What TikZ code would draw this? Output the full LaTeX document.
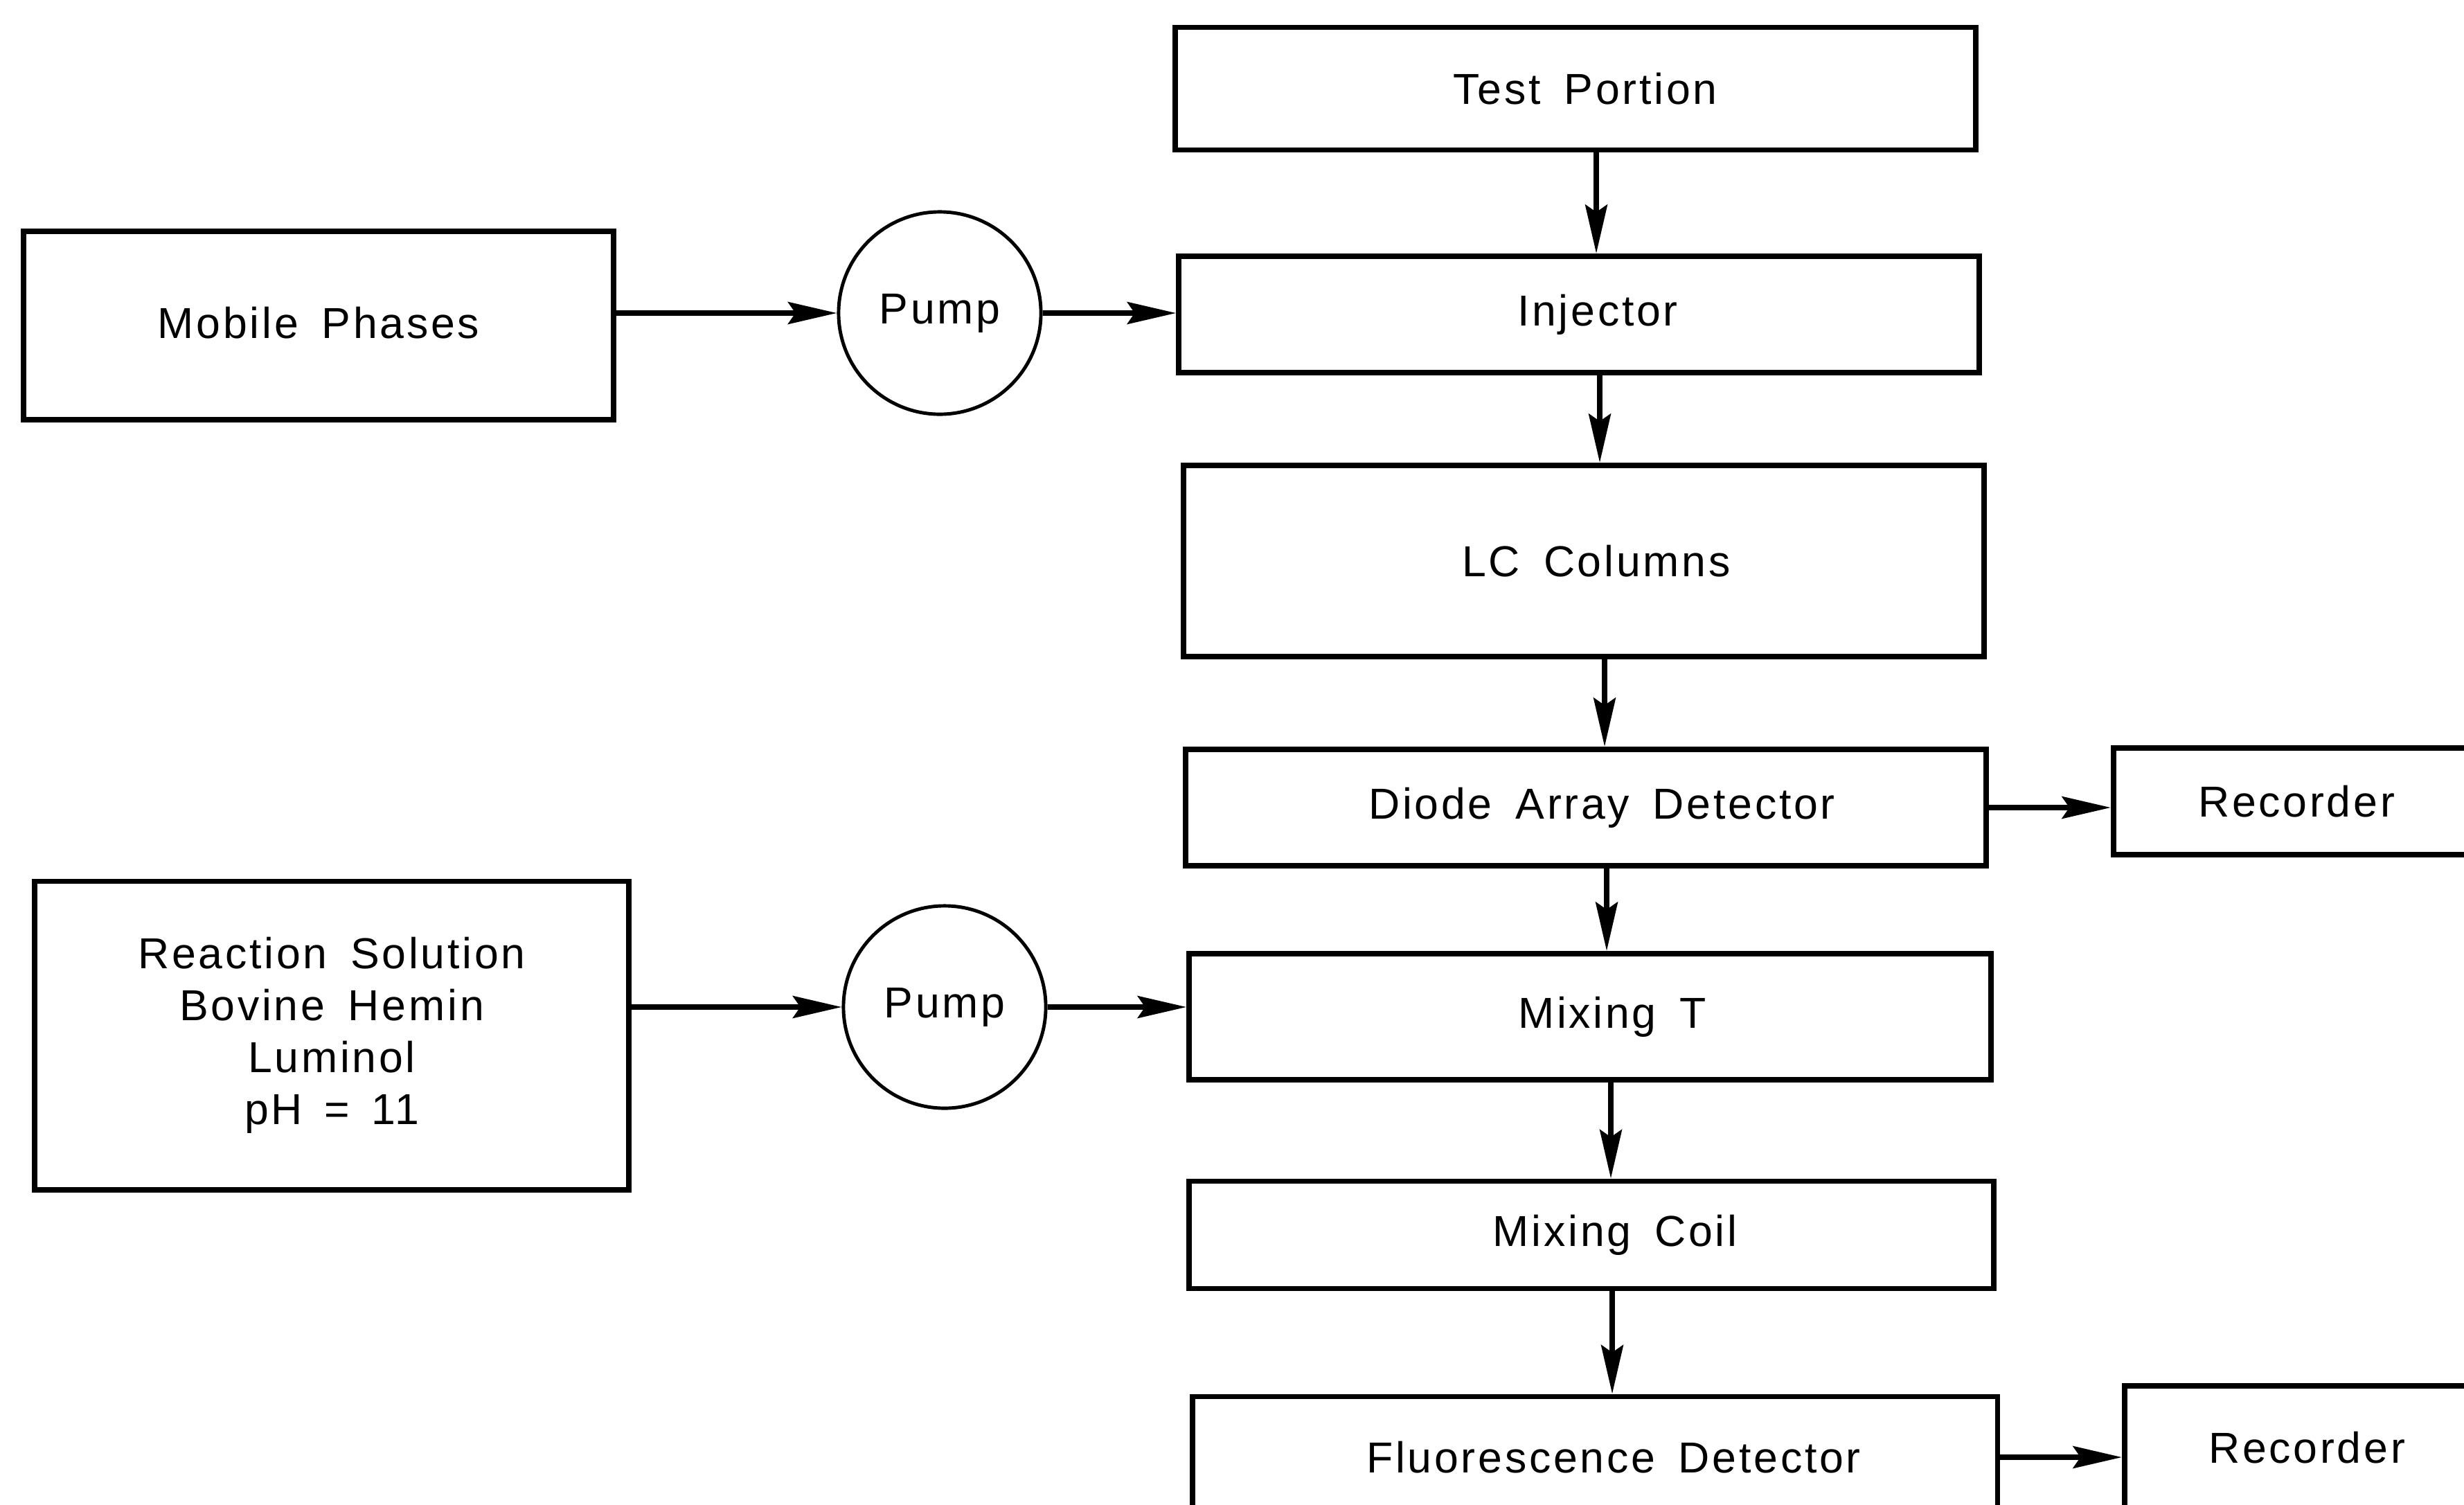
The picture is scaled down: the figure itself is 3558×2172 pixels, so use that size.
\documentclass[tikz,border=0pt]{standalone}
\usepackage{fontspec}
\setmainfont{Liberation Sans}[LetterSpace=6,WordSpace=1.6]
\usetikzlibrary{arrows.meta}
\newcommand{\txtshift}[2]{\hspace*{#1}#2}
\begin{document}
\begin{tikzpicture}[x=0.01cm,y=-0.01cm,
  every node/.style={font=\fontsize{17.8}{21.3}\selectfont},
  box/.style={draw,line width=2.2pt,inner sep=0pt,align=center},
  pumpc/.style={draw,circle,line width=1.4pt,minimum size=2.92cm,inner sep=0pt},
  arr/.style={line width=2.3pt,-{Stealth[length=20pt,width=9pt,inset=3pt]}}]
\clip (0,0) rectangle (3558,2172);
\fill[white] (0,0) rectangle (3558,2172);
\node[box,minimum width=11.55cm,minimum height=1.77cm] (test) at (2275,128) {\txtshift{0.28cm}{Test Portion}};
\node[box,minimum width=11.55cm,minimum height=1.68cm] (inj) at (2280,454) {\txtshift{0.54cm}{Injector}};
\node[box,minimum width=8.51cm,minimum height=2.72cm] (mob) at (460,470) {\raisebox{0.08cm}{Mobile Phases}};
\node[pumpc] (pump1) at (1357,452) {Pump};
\node[box,minimum width=11.55cm,minimum height=2.76cm] (lc) at (2287,810) {\txtshift{0.36cm}{LC Columns}};
\node[box,minimum width=11.55cm,minimum height=1.68cm] (dad) at (2290,1166) {\txtshift{0.46cm}{Diode Array Detector}};
\node[box,minimum width=5.28cm,minimum height=1.54cm] (rec1) at (3316,1157) {Recorder};
\node[box,minimum width=11.57cm,minimum height=1.82cm] (mixt) at (2296,1468) {\txtshift{0.64cm}{Mixing T}};
\node[box,minimum width=8.58cm,minimum height=4.45cm] (rs) at (479,1495) {Reaction Solution\\Bovine Hemin\\Luminol\\pH\hspace{0.5em}=\hspace{0.5em}11};
\node[pumpc] (pump2) at (1364,1454) {Pump};
\node[box,minimum width=11.61cm,minimum height=1.55cm] (coil) at (2298,1783) {\txtshift{0.68cm}{Mixing Coil}};
\node[box,minimum width=11.62cm,minimum height=1.75cm] (fd) at (2303,2104) {\txtshift{0.54cm}{Fluorescence Detector}};
\node[box,minimum width=5.26cm,minimum height=1.78cm] (rec2) at (3331,2090) {Recorder};
% connectors
\draw[arr] ([xshift=0.3cm]test.south) -- ([xshift=0.3cm]test.south |- inj.north);
\draw[arr] ([xshift=0.3cm]inj.south) -- ([xshift=0.3cm]inj.south |- lc.north);
\draw[arr] ([xshift=0.3cm]lc.south) -- ([xshift=0.3cm]lc.south |- dad.north);
\draw[arr] ([xshift=0.3cm]dad.south) -- ([xshift=0.3cm]dad.south |- mixt.north);
\draw[arr] ([xshift=0.3cm]mixt.south) -- ([xshift=0.3cm]mixt.south |- coil.north);
\draw[arr] ([xshift=0.3cm]coil.south) -- ([xshift=0.3cm]coil.south |- fd.north);
\draw[arr] (mob.east |- pump1.west) -- (pump1.west);
\draw[arr] (pump1.east) -- (pump1.east -| inj.west);
\draw[arr] (rs.east |- pump2.west) -- (pump2.west);
\draw[arr] (pump2.east) -- (pump2.east -| mixt.west);
\draw[arr] (dad.east) -- (dad.east -| rec1.west);
\draw[arr] (fd.east) -- (fd.east -| rec2.west);
\end{tikzpicture}
\end{document}
